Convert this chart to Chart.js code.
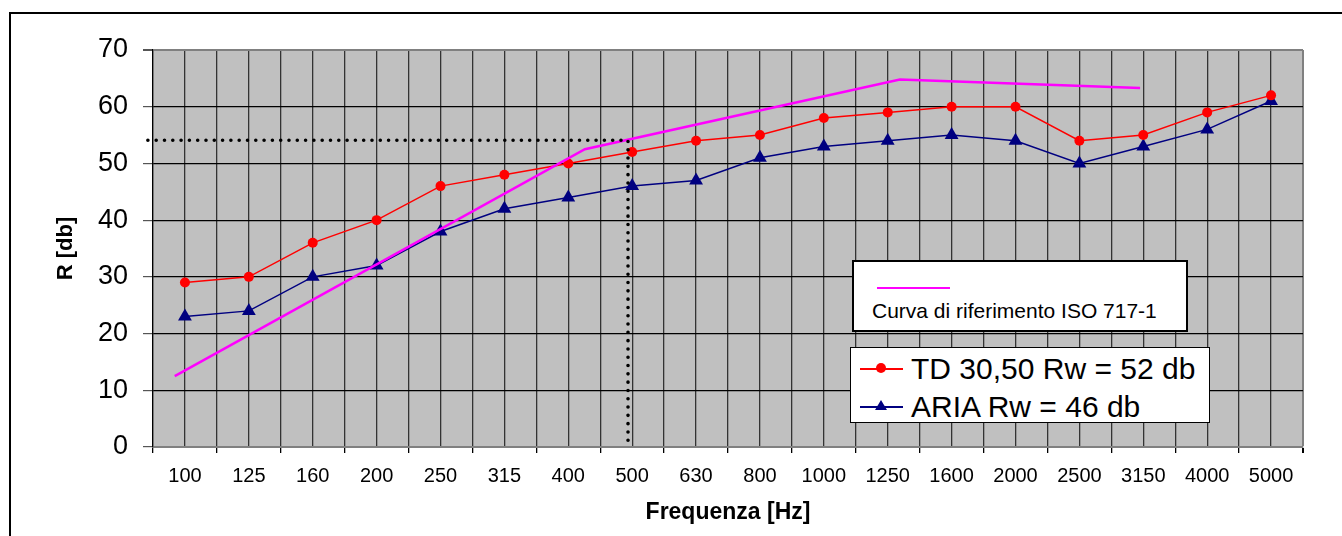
<!DOCTYPE html>
<html>
<head>
<meta charset="utf-8">
<script src="https://cdn.jsdelivr.net/npm/chart.js@4.4.0/dist/chart.umd.min.js"></script>
<style>
  html, body { margin: 0; padding: 0; background: #fff; }
  body { width: 1342px; height: 536px; position: relative; overflow: hidden; font-family: "Liberation Sans", Arial, sans-serif; }
  #frame { position: absolute; left: 9px; top: 12px; width: 2000px; height: 1000px; border-left: 2px solid #000; border-top: 2px solid #000; }
  #wrap { position: absolute; left: 0; top: 0; width: 1342px; height: 536px; }
  .box { position: absolute; background: #fff; box-sizing: border-box; }
  #box1 { left: 852px; top: 260px; width: 336px; height: 72px; border: 2px solid #000; }
  #box2 { left: 850px; top: 347px; width: 360px; height: 76px; border: 1px solid #000; }
  .lbl { position: absolute; white-space: nowrap; color: #000; line-height: 1; }
  .ln { position: absolute; }
  .dot { position: absolute; width: 10px; height: 10px; border-radius: 50%; background: #ff0000; }
  .tri { position: absolute; width: 0; height: 0; border-left: 6px solid transparent; border-right: 6px solid transparent; border-bottom: 10px solid #000080; }
</style>
</head>
<body>
<div id="frame"></div>
<div id="wrap"><canvas id="myChart" width="1342" height="536" style="width:1342px;height:536px;"></canvas></div>

<div class="box" id="box1">
  <div class="ln" style="left:23px; top:25px; width:73px; height:2px; background:#ff00ff;"></div>
  <div class="lbl" id="refLabel" style="left:18px; top:38px; font-size:21px;"></div>
</div>
<div class="box" id="box2">
  <div class="ln" style="left:9px; top:20px; width:43px; height:1.5px; background:#ff0000;"></div>
  <div class="dot" style="left:25px; top:15px;"></div>
  <div class="lbl" id="lbl1" style="left:60px; top:6px; font-size:30px;"></div>
  <div class="ln" style="left:9px; top:58px; width:43px; height:1.5px; background:#000080;"></div>
  <div class="tri" style="left:24px; top:52px;"></div>
  <div class="lbl" id="lbl2" style="left:60px; top:44px; font-size:30px;"></div>
</div>

<script>
var categories = ["100", "125", "160", "200", "250", "315", "400", "500", "630", "800",
                  "1000", "1250", "1600", "2000", "2500", "3150", "4000", "5000"];
var tdValues   = [29, 30, 36, 40, 46, 48, 50, 52, 54, 55, 58, 59, 60, 60, 54, 55, 59, 62];
var ariaValues = [23, 24, 30, 32, 38, 42, 44, 46, 47, 51, 53, 54, 55, 54, 50, 53, 56, 61];
// reference curve, positions in band units (0 = centre of first band)
var refX = [-0.16, 6.26, 11.19, 14.95];
var refY = [12.5, 52.5, 64.8, 63.3];
// dotted guide at 500 Hz
var guideX = [-0.58, 6.935, 6.935];
var guideY = [54.1, 54.1, 0];
var yTicks = [0, 10, 20, 30, 40, 50, 60, 70];
var seriesNames = ["TD 30,50 Rw = 52 db", "ARIA Rw = 46 db", "Curva di riferimento ISO 717-1"];

document.getElementById('lbl1').textContent = seriesNames[0];
document.getElementById('lbl2').textContent = seriesNames[1];
document.getElementById('refLabel').textContent = seriesNames[2];

function pts(xs, ys) {
    return xs.map(function (x, i) { return {x: x, y: ys[i]}; });
}

var plotBg = {
    id: 'plotBg',
    beforeDraw: function (chart) {
        var a = chart.chartArea, c = chart.ctx;
        c.save();
        c.fillStyle = '#c0c0c0';
        c.fillRect(a.left, a.top, a.right - a.left, a.bottom - a.top);
        c.restore();
    }
};

var font = "'Liberation Sans', Arial, sans-serif";
var ctx = document.getElementById('myChart').getContext('2d');
var chart = new Chart(ctx, {
    type: 'line',
    data: {
        datasets: [{
            label: 'guide',
            data: pts(guideX, guideY),
            borderColor: '#000',
            borderWidth: 3.6,
            borderDash: [0, 8.3],
            borderCapStyle: 'round',
            pointRadius: 0,
            clip: false,
            order: 0
        }, {
            label: seriesNames[2],
            data: pts(refX, refY),
            borderColor: '#ff00ff',
            borderWidth: 2.5,
            pointRadius: 0,
            order: 1
        }, {
            label: seriesNames[0],
            data: tdValues.map(function (v, i) { return {x: i, y: v}; }),
            borderColor: '#ff0000',
            backgroundColor: '#ff0000',
            borderWidth: 1.5,
            pointStyle: 'circle',
            pointRadius: 5,
            pointBorderWidth: 0,
            order: 2
        }, {
            label: seriesNames[1],
            data: ariaValues.map(function (v, i) { return {x: i, y: v}; }),
            borderColor: '#000080',
            backgroundColor: '#000080',
            borderWidth: 1.5,
            pointStyle: 'triangle',
            pointRadius: 8,
            pointBorderWidth: 0,
            order: 3
        }]
    },
    options: {
        responsive: false,
        animation: false,
        devicePixelRatio: 1,
        events: [],
        layout: { padding: { top: 50, right: 39, left: 0, bottom: 0 } },
        plugins: { legend: { display: false }, tooltip: { enabled: false } },
        scales: {
            x: {
                type: 'linear',
                min: -0.5,
                max: 17.5,
                afterFit: function (s) { s.height = 89; },
                afterBuildTicks: function (s) {
                    var t = [];
                    for (var v = -0.5; v <= 17.5; v += 0.5) t.push({value: v});
                    s.ticks = t;
                },
                ticks: {
                    autoSkip: false,
                    maxRotation: 0,
                    padding: 11,
                    color: '#000',
                    font: { family: font, size: 20 },
                    callback: function (v) { return Number.isInteger(v) ? categories[v] : ''; }
                },
                grid: {
                    color: function (c) { return c.tick && c.tick.value === 17.5 ? '#808080' : '#333'; },
                    lineWidth: function (c) { return c.tick && c.tick.value === 17.5 ? 2 : 1.3; },
                    tickLength: 6,
                    tickColor: function (c) { return c.tick && !Number.isInteger(c.tick.value) ? '#000' : 'rgba(0,0,0,0)'; }
                },
                border: { color: '#808080', width: 2 },
                title: {
                    display: true,
                    text: 'Frequenza [Hz]',
                    color: '#000',
                    font: { family: font, size: 23, weight: 'bold' },
                    padding: { top: 0, bottom: 10 }
                }
            },
            y: {
                min: 0,
                max: 70,
                afterFit: function (s) { s.width = 153; },
                afterBuildTicks: function (s) {
                    s.ticks = yTicks.map(function (v) { return {value: v}; });
                },
                ticks: {
                    padding: 15,
                    color: '#000',
                    font: { family: font, size: 27 }
                },
                grid: {
                    color: function (c) { return c.tick && c.tick.value === 70 ? '#808080' : '#000'; },
                    lineWidth: function (c) { return c.tick && c.tick.value === 70 ? 2 : 1.2; },
                    tickLength: 10,
                    tickColor: '#555'
                },
                border: { color: '#000', width: 1.2 },
                title: {
                    display: true,
                    text: 'R [db]',
                    color: '#000',
                    font: { family: font, size: 22, weight: 'bold' },
                    padding: { top: 53, bottom: 0 }
                }
            }
        }
    },
    plugins: [plotBg]
});
</script>
</body>
</html>
